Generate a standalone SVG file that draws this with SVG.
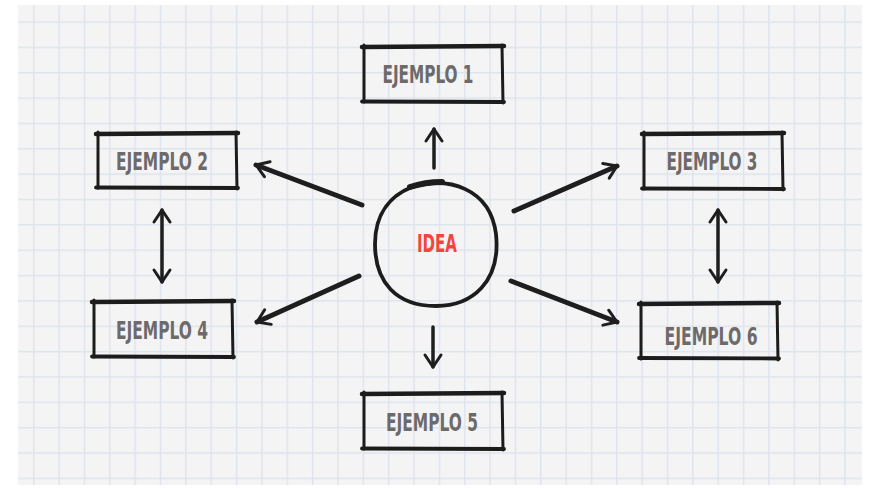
<svg xmlns="http://www.w3.org/2000/svg" width="869" height="489" viewBox="0 0 869 489">
  <defs>
    <pattern id="grid" patternUnits="userSpaceOnUse" x="33" y="21.3" width="25.35" height="25.35">
      <path d="M0.75,0 V25.35 M0,0.75 H25.35" stroke="#dde4ee" stroke-width="1.5" fill="none"/>
    </pattern>
    <marker id="ah" markerUnits="userSpaceOnUse" viewBox="-16 -12 20 24" refX="0" refY="0" markerWidth="20" markerHeight="24" orient="auto-start-reverse" overflow="visible">
      <path d="M-12,-8 L0,0 L-12,8" fill="none" stroke="#1e1e1e" stroke-width="3" stroke-linecap="round" stroke-linejoin="round"/>
    </marker>
  </defs>
  <style>
    .frame { fill: none; stroke: #1c1c1c; stroke-linecap: round; }
    .top { stroke-width: 4.5; }
    .side { stroke-width: 3; }
    .bot { stroke-width: 3.8; }
    .lbl { font-family: "DejaVu Sans Condensed", "DejaVu Sans", sans-serif; font-weight: bold; font-size: 24px; fill: #6e6a6a; text-anchor: middle; }
    .idea { font-family: "DejaVu Sans Condensed", "DejaVu Sans", sans-serif; font-weight: bold; font-size: 25px; fill: #f2463c; text-anchor: middle; }
    .conn { fill: none; stroke: #1e1e1e; stroke-linecap: round; }
    .thick { stroke-width: 5; }
    .thin { stroke-width: 3.5; }
  </style>

  <rect x="18" y="5" width="844" height="480" fill="#f4f4f4"/>
  <rect x="18" y="5" width="844" height="480" fill="url(#grid)"/>

  <g id="connectors">
    <path class="conn thin" d="M434,168 L434,129" marker-end="url(#ah)"/>
    <path class="conn thin" d="M433,327 L433,367" marker-end="url(#ah)"/>
    <path class="conn thick" d="M362,205 L256,165" marker-end="url(#ah)"/>
    <path class="conn thick" d="M514,211 L617,166" marker-end="url(#ah)"/>
    <path class="conn thick" d="M359,276 L257,322" marker-end="url(#ah)"/>
    <path class="conn thick" d="M511,281 L617,322" marker-end="url(#ah)"/>
    <path class="conn thin" d="M162,210 L162,282" marker-start="url(#ah)" marker-end="url(#ah)"/>
    <path class="conn thin" d="M718,210 L718,282" marker-start="url(#ah)" marker-end="url(#ah)"/>
  </g>

  <g id="idea">
    <path d="M412,187 C448,176 490,188 496,234 C501,282 472,306 436,306 C396,306 375,282 375,244 C375,212 392,195 412,187 Z" fill="none" stroke="#1c1c1c" stroke-width="3.8" stroke-linecap="round"/>
    <path d="M410,187 Q425,182 442,182" fill="none" stroke="#1c1c1c" stroke-width="6" stroke-linecap="round"/>
    <text class="idea" x="437" y="252" textLength="40" lengthAdjust="spacingAndGlyphs">IDEA</text>
  </g>

  <g id="ejemplo1" transform="translate(363,46)">
    <path class="frame top" d="M-1,1 L141,0"/>
    <path class="frame side" d="M1,-1 L1,56 M139,-1 L140,57"/>
    <path class="frame bot" d="M-1,55.5 L141,56"/>
    <text class="lbl" x="65" y="37" textLength="91" lengthAdjust="spacingAndGlyphs">EJEMPLO 1</text>
  </g>
  <g id="ejemplo2" transform="translate(97,133)">
    <path class="frame top" d="M-1,1 L141,0"/>
    <path class="frame side" d="M1,-1 L1,55 M139,-1 L140,56"/>
    <path class="frame bot" d="M-1,54.5 L141,55"/>
    <text class="lbl" x="65" y="37" textLength="92" lengthAdjust="spacingAndGlyphs">EJEMPLO 2</text>
  </g>
  <g id="ejemplo3" transform="translate(643,133)">
    <path class="frame top" d="M-1,1 L141,0"/>
    <path class="frame side" d="M1,-1 L1,56 M139,-1 L140,57"/>
    <path class="frame bot" d="M-1,55.5 L141,56"/>
    <text class="lbl" x="69" y="37" textLength="91" lengthAdjust="spacingAndGlyphs">EJEMPLO 3</text>
  </g>
  <g id="ejemplo4" transform="translate(93,301)">
    <path class="frame top" d="M-1,1 L141,0"/>
    <path class="frame side" d="M1,-1 L1,56 M139,-1 L140,57"/>
    <path class="frame bot" d="M-1,55.5 L141,56"/>
    <text class="lbl" x="69" y="38" textLength="92" lengthAdjust="spacingAndGlyphs">EJEMPLO 4</text>
  </g>
  <g id="ejemplo5" transform="translate(363,393)">
    <path class="frame top" d="M-1,1 L141,0"/>
    <path class="frame side" d="M1,-1 L1,56 M139,-1 L140,57"/>
    <path class="frame bot" d="M-1,55.5 L141,56"/>
    <text class="lbl" x="69" y="38" textLength="92" lengthAdjust="spacingAndGlyphs">EJEMPLO 5</text>
  </g>
  <g id="ejemplo6" transform="translate(640,303)">
    <path class="frame top" d="M-1,1 L139,0"/>
    <path class="frame side" d="M1,-1 L1,56 M137,-1 L138,57"/>
    <path class="frame bot" d="M-1,55 L139,55.5"/>
    <text class="lbl" x="71" y="42" textLength="93" lengthAdjust="spacingAndGlyphs">EJEMPLO 6</text>
  </g>
</svg>
